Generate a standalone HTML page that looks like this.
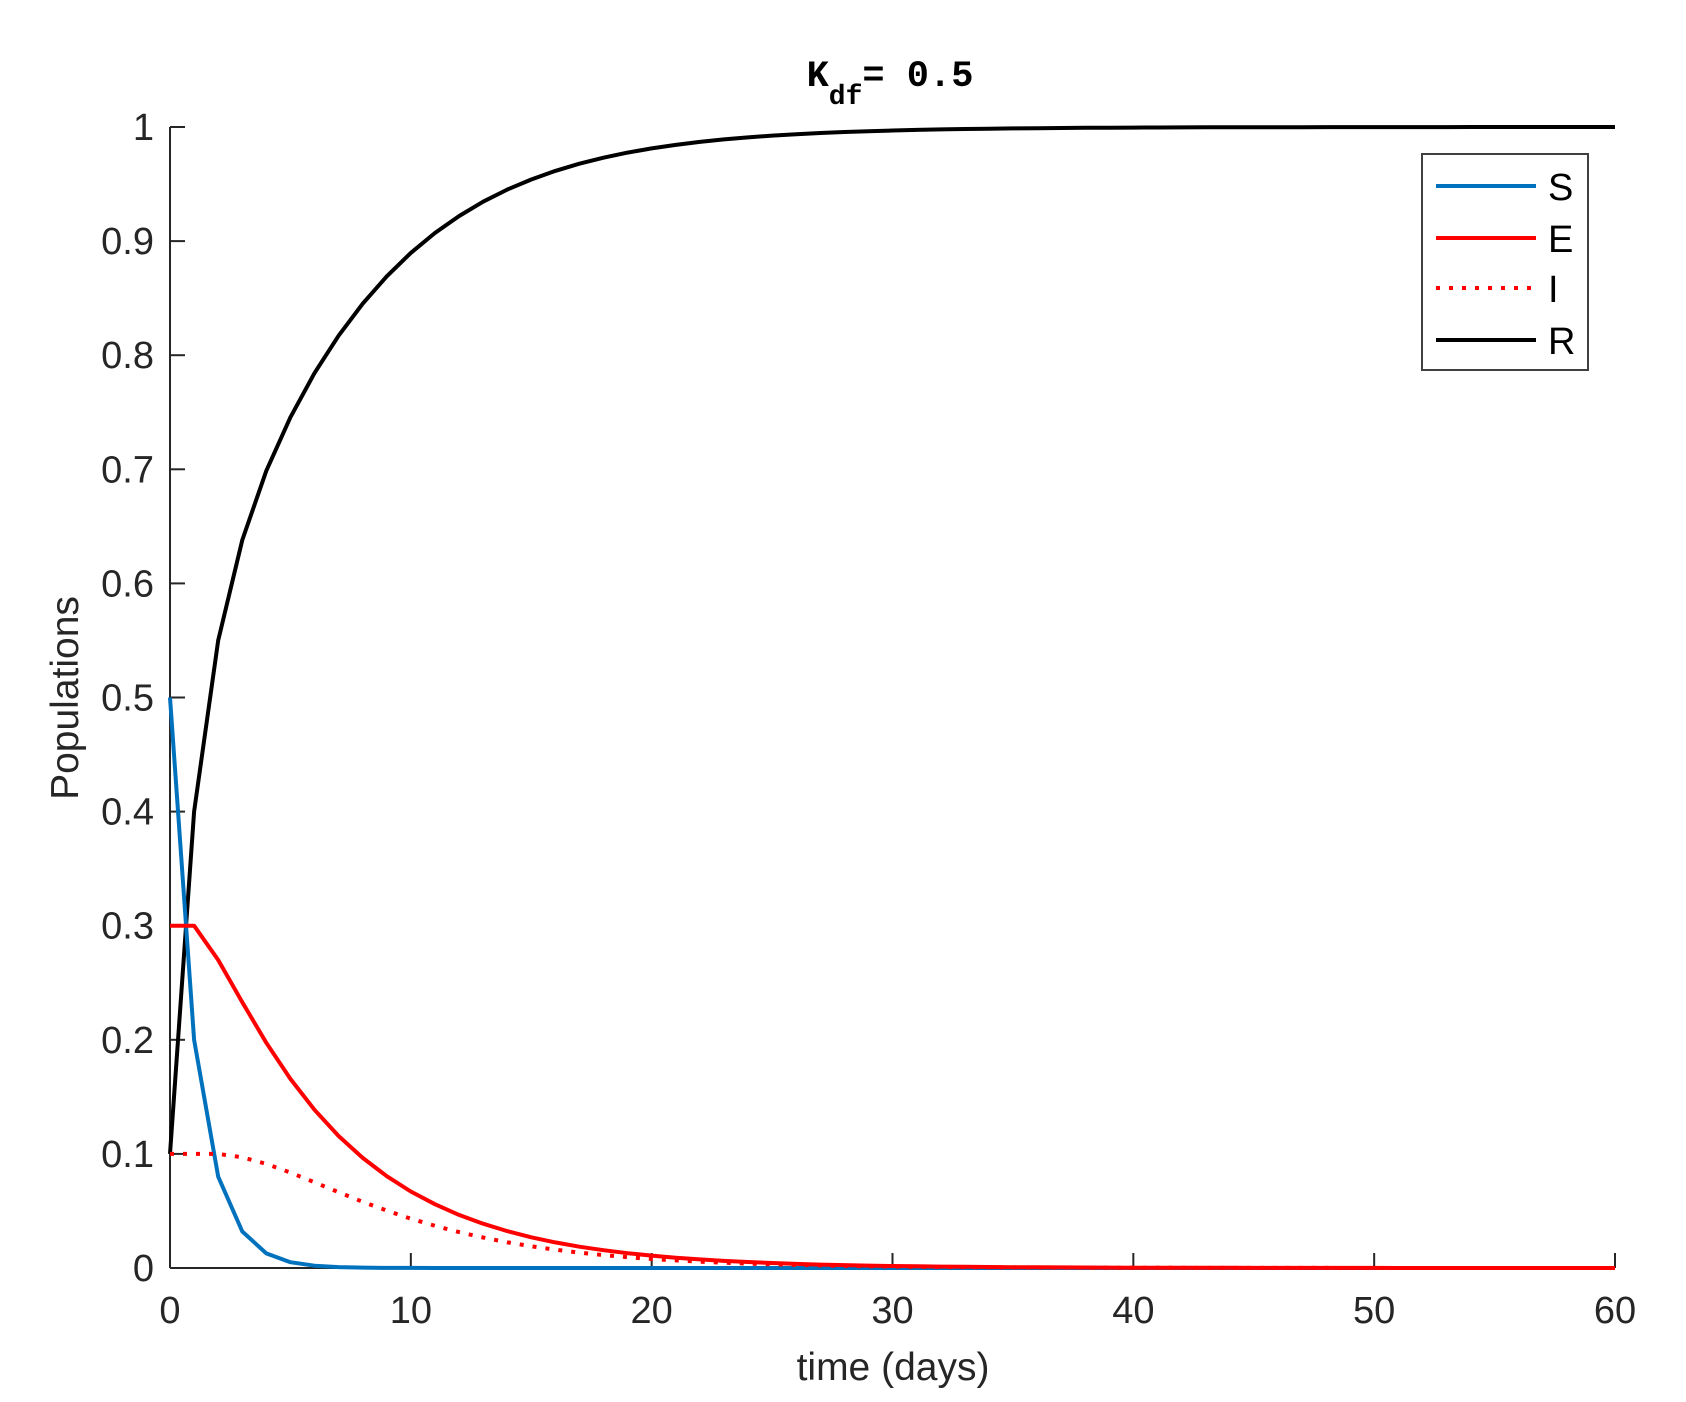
<!DOCTYPE html>
<html><head><meta charset="utf-8"><style>
html,body{margin:0;padding:0;background:#fff;}
svg{display:block;}
text{font-family:"Liberation Sans",Arial,sans-serif;fill:#262626;}
</style></head><body>
<svg id="s" width="1686" height="1402" viewBox="0 0 1686 1402" xmlns="http://www.w3.org/2000/svg">
<rect width="1686" height="1402" fill="#fff"/>
<g id="axes" stroke="#262626" stroke-width="2" fill="none"></g>
<g id="labels" font-size="38" fill="#262626"></g>
<g id="series" fill="none" stroke-width="4" stroke-linejoin="round"></g>
<text x="890" y="86" text-anchor="middle" font-weight="bold" font-size="37" style="font-family:'Liberation Mono',monospace;fill:#000">K<tspan dy="18" font-size="28">df</tspan><tspan dy="-18">= 0.5</tspan></text>
<text x="893" y="1380" text-anchor="middle" font-size="39">time (days)</text>
<text transform="translate(78,698) rotate(-90)" text-anchor="middle" font-size="39">Populations</text>
<rect x="1422" y="154" width="166" height="216" fill="#fff" stroke="#404040" stroke-width="2"/>
<line x1="1436" y1="186" x2="1536" y2="186" stroke="#0072BD" stroke-width="4"/>
<line x1="1436" y1="238" x2="1536" y2="238" stroke="#ff0000" stroke-width="4"/>
<line x1="1436" y1="288" x2="1536" y2="288" stroke="#ff0000" stroke-width="4" stroke-dasharray="4 9"/>
<line x1="1436" y1="340" x2="1536" y2="340" stroke="#000" stroke-width="4"/>
<g font-size="38">
<text x="1548" y="200" style="fill:#000">S</text>
<text x="1548" y="252" style="fill:#000">E</text>
<text x="1548" y="302" style="fill:#000">I</text>
<text x="1548" y="354" style="fill:#000">R</text>
</g>
</svg>
<script>
(function(){
var L=170,R=1615,T=127,B=1268;
function X(t){return L+(R-L)*t/60;}
function Y(v){return B-(B-T)*v;}
var ns="http://www.w3.org/2000/svg";
var ax=document.getElementById('axes'),lb=document.getElementById('labels'),se=document.getElementById('series');
function el(p,tag,a,txt){var e=document.createElementNS(ns,tag);for(var k in a)e.setAttribute(k,a[k]);if(txt!==undefined)e.textContent=txt;p.appendChild(e);return e;}
el(ax,'line',{x1:L,y1:T,x2:L,y2:B});
el(ax,'line',{x1:L,y1:B,x2:R,y2:B});
for(var i=0;i<=10;i++){var y=Y(i/10);el(ax,'line',{x1:L,y1:y,x2:L+15,y2:y});
el(lb,'text',{x:154,y:y+13,'text-anchor':'end'},i==0?'0':i==10?'1':(i/10).toFixed(1));}
for(var i=0;i<=6;i++){var x=X(i*10);el(ax,'line',{x1:x,y1:B,x2:x,y2:B-15});
el(lb,'text',{x:x,y:1323,'text-anchor':'middle'},String(i*10));}
var S=[.5],E=[.3],I=[.1],Rr=[.1];
for(var n=0;n<60;n++){var s=S[n],e=E[n],ii=I[n];
S.push(0.4*s);E.push(e+0.1*s-0.1667*e);I.push(ii+0.1*e-0.3*ii);}
for(var n=1;n<=60;n++)Rr.push(1-S[n]-E[n]-I[n]);
function path(arr,col,dash){var d='';for(var n=0;n<=60;n++)d+=(n?'L':'M')+X(n).toFixed(1)+','+Y(arr[n]).toFixed(1);
var a={d:d,stroke:col};if(dash)a['stroke-dasharray']=dash;el(se,'path',a);}
path(Rr,'#000');path(S,'#0072BD');path(E,'#ff0000');path(I,'#ff0000','4 9');
})();
</script>
</body></html>
